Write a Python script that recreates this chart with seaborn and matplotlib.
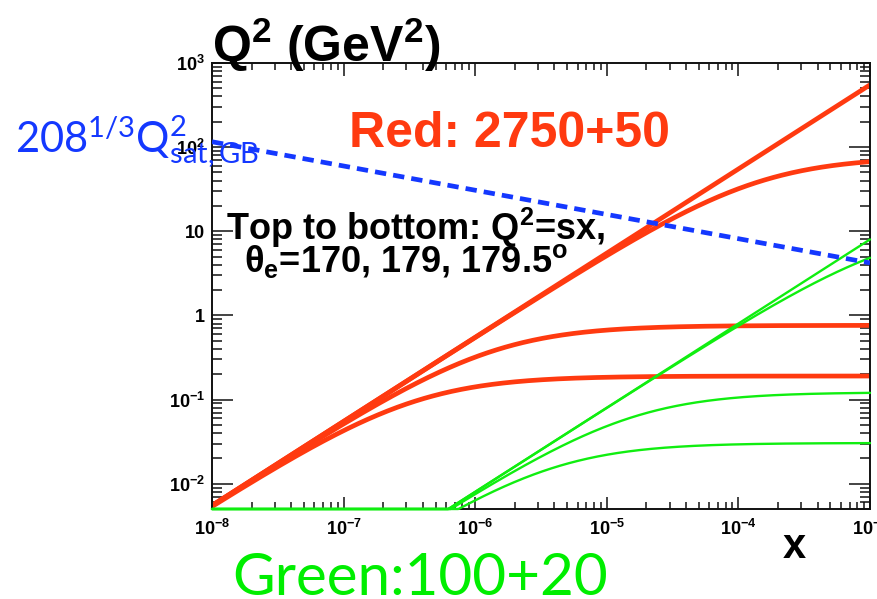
import numpy as np
import pandas as pd
import matplotlib
matplotlib.use("Agg")
import matplotlib.pyplot as plt
import seaborn as sns
from matplotlib.ticker import FixedLocator, FixedFormatter, LogLocator, NullFormatter

# Beam energies in GeV: (hadron, electron)
red_beams = [2750, 50]
green_beams = [100, 20]
# Electron scattering-angle cuts in degrees, top to bottom
theta_cuts = [170, 179, 179.5]
# Lead nucleus and GBW saturation-scale parameters
mass_number = 208
gbw_q0_sq = 1.0
gbw_x0 = 3.04e-4
gbw_lambda = 0.288

x_range = (1e-8, 1e-3)
q2_range = (5e-3, 1e3)
x_ticks = [1e-8, 1e-7, 1e-6, 1e-5, 1e-4, 1e-3]
x_tick_labels = [r"$\mathbf{10^{-8}}$", r"$\mathbf{10^{-7}}$", r"$\mathbf{10^{-6}}$",
                 r"$\mathbf{10^{-5}}$", r"$\mathbf{10^{-4}}$", r"$\mathbf{10^{-3}}$"]
y_ticks = [1e-2, 1e-1, 1, 10, 1e2, 1e3]
y_tick_labels = [r"$\mathbf{10^{-2}}$", r"$\mathbf{10^{-1}}$", "1", "10",
                 r"$\mathbf{10^{2}}$", r"$\mathbf{10^{3}}$"]

RED = "#ff3a10"
GREEN = "#10ee10"
BLUE = "#1438ff"

x = np.logspace(np.log10(x_range[0]), np.log10(x_range[1]), 600)


def kinematic_curves(beams):
    """Q^2 = s x, and Q^2 reachable with the electron at fixed angle theta."""
    e_h, e_e = beams
    s = 4.0 * e_h * e_e
    curves = [s * x]
    for th in theta_cuts:
        a = 4.0 * e_e ** 2 / np.tan(np.radians(th) / 2.0) ** 2
        curves.append(s * x * a / (s * x + a))
    # values under the frame are drawn along its lower edge
    return [np.clip(c, q2_range[0], None) for c in curves]


red_curves = kinematic_curves(red_beams)
green_curves = kinematic_curves(green_beams)
q2_sat = mass_number ** (1.0 / 3.0) * gbw_q0_sq * (gbw_x0 / x) ** gbw_lambda

sns.set_style("ticks")
plt.rcParams.update({
    "font.family": ["Liberation Sans", "DejaVu Sans"],
    "text.color": "black",
    "xtick.labelcolor": "black",
    "ytick.labelcolor": "black",
    "mathtext.fontset": "custom",
    "mathtext.bf": "Liberation Sans:bold",
    "mathtext.rm": "Lato",
    "mathtext.it": "Liberation Sans:italic",
    "mathtext.sf": "Liberation Sans",
})

fig = plt.figure(figsize=(8.78, 5.99), dpi=100)
W, H = 878, 599
ax = fig.add_axes([212 / W, 1 - 509 / H, (870 - 212) / W, (509 - 63) / H])
ax.set_xscale("log")
ax.set_yscale("log")

for c in red_curves:
    sns.lineplot(x=x, y=c, ax=ax, color=RED, lw=3.4, estimator=None, solid_capstyle="butt")
for c in green_curves:
    sns.lineplot(x=x, y=c, ax=ax, color=GREEN, lw=1.7, estimator=None,
                 clip_on=False, zorder=3)
sns.lineplot(x=x, y=q2_sat, ax=ax, color=BLUE, lw=3.4, estimator=None,
             dashes=False, linestyle=(0, (2.4, 1.5)), zorder=3)

ax.set_xlim(*x_range)
ax.set_ylim(*q2_range)

ax.xaxis.set_major_locator(FixedLocator(x_ticks))
ax.xaxis.set_major_formatter(FixedFormatter(x_tick_labels))
ax.yaxis.set_major_locator(FixedLocator(y_ticks))
ax.yaxis.set_major_formatter(FixedFormatter(y_tick_labels))
ax.xaxis.set_minor_locator(LogLocator(base=10, subs=np.arange(2, 10), numticks=30))
ax.yaxis.set_minor_locator(LogLocator(base=10, subs=np.arange(2, 10), numticks=30))
ax.xaxis.set_minor_formatter(NullFormatter())
ax.yaxis.set_minor_formatter(NullFormatter())

ax.tick_params(which="both", direction="in", top=True, right=True,
               color="#111111", width=1.1, labelsize=13, labelcolor="black")
ax.tick_params(axis="x", which="major", length=9, pad=7)
ax.tick_params(axis="x", which="minor", length=5)
ax.tick_params(axis="y", which="major", length=15, pad=5)
ax.tick_params(axis="y", which="minor", length=7.5)
for lbl in ax.get_xticklabels() + ax.get_yticklabels():
    lbl.set_fontweight("bold")
for sp in ax.spines.values():
    sp.set_linewidth(1.4)
    sp.set_color("#111111")
ax.set_xlabel("")
ax.set_ylabel("")


def fx(px):
    return px / W


def fy(py):
    return 1 - py / H


fig.text(fx(212), fy(62), r"Q$^{\mathbf{2}}$ (GeV$^{\mathbf{2}}$)", fontsize=36,
         fontweight="bold", ha="left", va="baseline")
fig.text(fx(509), fy(147), f"Red: {red_beams[0]}+{red_beams[1]}", fontsize=36,
         fontweight="bold", color=RED, ha="center", va="baseline")
fig.text(fx(416), fy(240), r"Top to bottom: Q$^{\mathbf{2}}$=sx,", fontsize=26,
         fontweight="bold", ha="center", va="baseline")
angles = ", ".join(f"{t:g}" for t in theta_cuts)
fig.text(fx(406), fy(272), "θ$_{\\mathbf{e}}$=" + angles + r"$^{\mathbf{o}}$",
         fontsize=26, fontweight="bold", ha="center", va="baseline")
fig.text(fx(15), fy(153), rf"$\mathrm{{{mass_number}^{{1/3}}Q^{{2}}_{{sat,GB}}}}$",
         fontsize=30, color=BLUE, ha="left", va="baseline")
fig.text(fx(232), fy(595), f"Green:{green_beams[0]}+{green_beams[1]}",
         family="Lato", fontsize=42, color="#00ee00", ha="left", va="baseline")
fig.text(fx(806), fy(558), "x", fontsize=30, fontweight="bold",
         ha="right", va="baseline")

fig.savefig("out.png", dpi=100, facecolor="white")
